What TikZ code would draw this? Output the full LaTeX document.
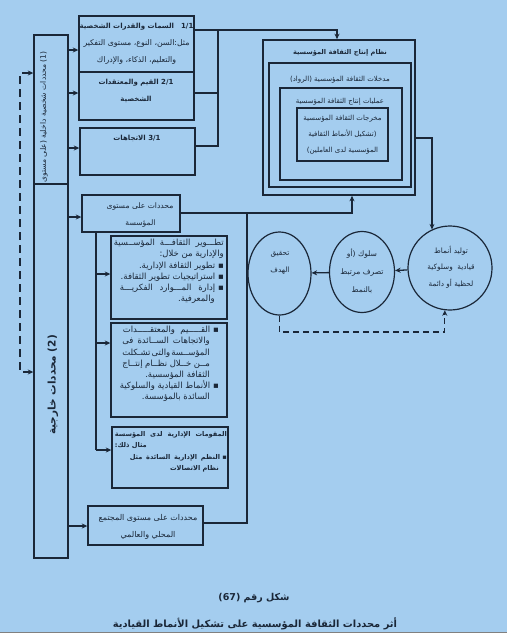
\documentclass[tikz,border=0pt]{standalone}
\usepackage{fontspec}
\newfontfamily\arabicfont[Script=Arabic]{DejaVu Sans}
\TeXXeTstate=1
\usetikzlibrary{arrows.meta,shapes.geometric,calc}
\definecolor{bgblue}{HTML}{A4CDEF}
\definecolor{ink}{HTML}{1A2738}
\newcommand\AR[1]{\beginR #1\endR}
\newcommand\JL[2]{\hbox to #1{\beginR #2\endR}}
\begin{document}
\begin{tikzpicture}[x=1pt,y=-1pt,
  every node/.style={inner sep=0pt,text=ink},
  txt/.style={font=\arabicfont\fontsize{7.8}{17}\selectfont,align=center},
  small/.style={font=\arabicfont\fontsize{8.5}{11.2}\selectfont,align=right},
  boxst/.style={draw=ink,line width=1.4pt},
  nest/.style={draw=ink,line width=1.6pt},
  conn/.style={draw=ink,line width=1.3pt},
  arr/.style={conn,-{Stealth[length=5.5pt,width=5pt]}},
  dshL/.style={draw=ink,line width=1.9pt,dash pattern=on 8pt off 5pt},
  dshB/.style={draw=ink,line width=1.3pt,dash pattern=on 6pt off 4pt}]
\useasboundingbox (0,0) rectangle (507,635);
\fill[bgblue] (0,0) rectangle (507,632);
\fill[white] (0,632) rectangle (507,635);
\draw[gray,line width=0.8pt] (0,632) -- (507,632);

% left column
\node[boxst,minimum width=34pt,minimum height=149pt] (col1) at (51,109.5) {};
\node[boxst,minimum width=34pt,minimum height=374pt] (col2) at (51,371) {};
\node[font=\arabicfont\fontsize{7.6}{9}\selectfont,rotate=90] (c1t) at (44,117)
  {\AR{\beginL(1)\endL{} محددات شخصية داخلية (على مستوى}};
\node[font=\arabicfont\bfseries\fontsize{10.5}{12}\selectfont,rotate=90] (c2t) at (53,385)
  {\AR{\beginL(2)\endL{} محددات خارجية}};

% dashed feedback on the left
\coordinate (dA) at (20,73);
\coordinate (dB) at (20,372);
\draw[dshL,{Stealth[length=5.5pt,width=5pt]}-{Stealth[length=5.5pt,width=5pt]}]
  (col1.west|-dA) -- (dA) -- (dB) -- (col2.west|-dB);

% top boxes
\node[boxst,minimum width=115pt,minimum height=56pt] (b11) at (136.5,44) {};
\node[boxst,minimum width=115pt,minimum height=48pt] (b21) at (136.5,96) {};
\node[boxst,minimum width=115pt,minimum height=47pt] (b31) at (137.5,151.5) {};
\node[txt] (b11t) at (136.5,44)
  {{\fontsize{7}{17}\selectfont\bfseries\AR{\beginL1/1\endL\quad السمات والقدرات الشخصية}}\\
   \AR{مثل:السن، النوع، مستوى التفكير}\\
   \AR{والتعليم، الذكاء، والإدراك}};
\node[txt,font=\arabicfont\bfseries\fontsize{7}{17}\selectfont] (b21t) at (136,90.5)
  {\AR{\beginL2/1\endL{} القيم والمعتقدات}\\
   \AR{الشخصية}};
\node[txt,font=\arabicfont\bfseries\fontsize{7}{17}\selectfont] (b31t) at (137,138)
  {\AR{\beginL3/1\endL{} الاتجاهات}};

% arrows from column
\coordinate (y1) at (0,50);
\coordinate (y2) at (0,93);
\coordinate (y3) at (0,148);
\coordinate (y4) at (0,217);
\coordinate (y5) at (0,526);
\draw[arr] (col1.east|-y1) -- (b11.west|-y1);
\draw[arr] (col1.east|-y2) -- (b21.west|-y2);
\draw[arr] (col1.east|-y3) -- (b31.west|-y3);

% nested system box
\node[nest,minimum width=152pt,minimum height=155pt] (N1) at (339,117.5) {};
\node[nest,minimum width=142pt,minimum height=124pt] (N2) at (340,125) {};
\node[nest,minimum width=122pt,minimum height=92pt] (N3) at (341,134) {};
\node[nest,minimum width=91pt,minimum height=53pt] (N4) at (342.5,134.5) {};
\node[txt,font=\arabicfont\bfseries\fontsize{6.6}{8}\selectfont] (N1t) at (340,53) {\AR{نظام إنتاج الثقافة المؤسسية}};
\node[txt,font=\arabicfont\fontsize{7}{8}\selectfont] (N2t) at (340,80) {\AR{مدخلات الثقافة المؤسسية (الرواد)}};
\node[txt,font=\arabicfont\fontsize{6.9}{8}\selectfont] (N3t) at (340,102) {\AR{عمليات إنتاج الثقافة المؤسسية}};
\node[txt,font=\arabicfont\fontsize{7}{16}\selectfont] (N4t) at (342.5,135)
  {\AR{مخرجات الثقافة المؤسسية}\\
   \AR{(تشكيل الأنماط الثقافية}\\
   \AR{المؤسسية لدى العاملين)}};

% bus from top boxes to system box
\coordinate (busT) at (218,30);
\coordinate (r2) at (218,93);
\coordinate (busB) at (218,146);
\coordinate (nIn) at (337,30);
\draw[arr] (b11.east|-busT) -- (nIn) -- (nIn|-N1.north);
\draw[conn] (b21.east|-r2) -- (r2);
\draw[conn] (b31.east|-busB) -- (busB) -- (busT);

% middle (institution) box
\node[boxst,minimum width=98pt,minimum height=37pt] (bm) at (131,213.5) {};
\node[txt,align=right,font=\arabicfont\fontsize{7.6}{16.5}\selectfont] (bmt) at (140,215)
  {\AR{محددات على مستوى}\\ \AR{المؤسسة}\kern18pt};
\draw[arr] (col2.east|-y4) -- (bm.west|-y4);

% sub boxes
\node[boxst,minimum width=116pt,minimum height=83pt] (sA) at (169,277.5) {};
\node[boxst,minimum width=116pt,minimum height=94pt] (sB) at (169,370) {};
\node[boxst,minimum width=116pt,minimum height=61pt] (sC) at (170,457.5) {};
\node[small,anchor=north east] (sAt) at (224,239)
  {\JL{110pt}{تطـــوير\hfil الثقافـــة\hfil المؤســسية}\\
   \AR{والإدارية من خلال:}\\
   \AR{▪ تطوير الثقافة الإدارية.}\\
   \AR{▪ استراتيجيات تطوير الثقافة.}\\
   \JL{104pt}{▪ إدارة\hfil المـــوارد\hfil الفكريـــة}\\
   \AR{والمعرفية.}\kern9pt};
\node[small,anchor=north east] (sBt) at (219,326)
  {\JL{96pt}{▪ القـــــيم\hfil والمعتقـــــدات}\\
   \JL{87.5pt}{والاتجاهات\hfil الســائدة\hfil فى}\kern9pt\\
   \JL{87.5pt}{المؤســسة\hfil والتى\hfil تشـكلت}\kern9pt\\
   \JL{87.5pt}{مــن\hfil خــلال\hfil نظــام\hfil إنتــاج}\kern9pt\\
   \AR{الثقافة المؤسسية.}\kern9pt\\
   \AR{▪ الأنماط القيادية والسلوكية}\\
   \AR{السائدة بالمؤسسة.}\kern9pt};
\node[small,anchor=north east,font=\arabicfont\bfseries\fontsize{6.6}{11.5}\selectfont] (sCt) at (227,431)
  {\JL{112pt}{المقومات\hfil الإدارية\hfil لدى\hfil المؤسسة}\\
   \AR{مثال ذلك:}\kern80pt\\
   \JL{97pt}{▪ النظم\hfil الإدارية\hfil السائدة\hfil مثل}\\
   \AR{نظام الاتصالات}\kern8pt};

\coordinate (vB) at (96,450);
\coordinate (ya) at (0,274);
\coordinate (yb) at (0,343);
\draw[conn] (vB|-bm.south) -- (vB);
\draw[arr] (vB|-ya) -- (sA.west|-ya);
\draw[arr] (vB|-yb) -- (sB.west|-yb);
\draw[arr] (vB) -- (sC.west|-vB);

% society box
\node[boxst,minimum width=115pt,minimum height=39pt] (soc) at (145.5,525.5) {};
\node[txt,font=\arabicfont\fontsize{8}{17}\selectfont] (soct) at (148,526.5)
  {\AR{محددات على مستوى المجتمع}\\ \AR{المحلي والعالمي}};
\draw[arr] (col2.east|-y5) -- (soc.west|-y5);

% bus to the system box from below
\coordinate (mR) at (247,213);
\coordinate (mUp) at (352,213);
\coordinate (sR) at (247,523);
\draw[conn] (bm.east|-mR) -- (mR);
\draw[arr] (mR) -- (mUp) -- (mUp|-N1.south);
\draw[conn] (soc.east|-sR) -- (sR) -- (mR);

% ellipses
\node[draw=ink,line width=1.2pt,circle,minimum size=84pt] (E1) at (450,268) {};
\node[draw=ink,line width=1.2pt,ellipse,minimum width=65pt,minimum height=81pt] (E2) at (362,272) {};
\node[draw=ink,line width=1.2pt,ellipse,minimum width=63pt,minimum height=83pt] (E3) at (279.5,273.5) {};
\node[txt,font=\arabicfont\fontsize{7.3}{16.5}\selectfont] (E1t) at (451,267)
  {\AR{توليد أنماط}\\ \AR{قيادية \ وسلوكية}\\ \AR{لحظية أو دائمة}};
\node[txt,font=\arabicfont\fontsize{7.6}{18}\selectfont] (E2t) at (362,271)
  {\AR{سلوك (أو}\\ \AR{تصرف مرتبط}\\ \AR{بالنمط}};
\node[txt,font=\arabicfont\fontsize{7.3}{16.5}\selectfont] (E3t) at (280,263)
  {\AR{تحقيق}\\ \AR{الهدف}};

\coordinate (rc) at (432,138);
\draw[arr] (N1.east|-rc) -| (E1.115);
\draw[arr] (E1) -- (E2);
\draw[arr] (E2) -- (E3);
\coordinate (fb) at (0,332);
\draw[dshB,-{Stealth[length=5.5pt,width=5pt]}] (E3.south) -- (E3.south|-fb) -- (E1.263|-fb) -- (E1.263);

% caption
\node[font=\arabicfont\bfseries\fontsize{9.5}{11}\selectfont] (cap1) at (254,598)
  {\AR{شكل رقم \beginL(67)\endL}};
\node[font=\arabicfont\bfseries\fontsize{9.9}{11}\selectfont] (cap2) at (255,624)
  {\AR{أثر محددات الثقافة المؤسسية على تشكيل الأنماط القيادية}};
\end{tikzpicture}
\end{document}
